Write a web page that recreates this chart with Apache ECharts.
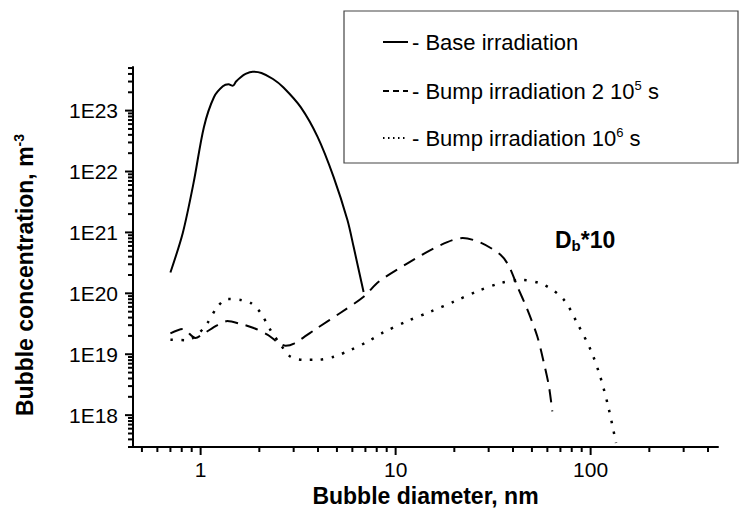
<!DOCTYPE html>
<html>
<head>
<meta charset="utf-8">
<script src="https://cdn.jsdelivr.net/npm/echarts@6/dist/echarts.min.js"></script>
<style>
  html, body { margin: 0; padding: 0; background: #fff; }
  #chart { width: 741px; height: 524px; }
</style>
</head>
<body>
<div id="chart"></div>
<script>
// Bubble size distributions (diameter in nm, concentration in m^-3)
const baseD = [0.70, 0.81, 0.92, 1.04, 1.17, 1.30, 1.39, 1.46, 1.52, 1.60, 1.70, 1.85, 2.05, 2.35, 2.66, 3.26, 3.98, 4.81, 5.66, 6.09, 6.85];
const baseC = [2.2e20, 9.8e20, 6.5e21, 5.4e22, 1.66e23, 2.5e23, 2.7e23, 2.55e23, 3.0e23, 3.5e23, 4.0e23, 4.35e23, 4.15e23, 3.3e23, 2.4e23, 1.14e23, 3.7e22, 8.1e21, 1.6e21, 5.8e20, 1.05e20];

const bump2e5D = [0.70, 0.81, 0.94, 1.04, 1.22, 1.37, 1.60, 1.87, 2.20, 2.47, 2.73, 3.01, 3.97, 5.22, 6.88, 8.21, 11.5, 17.0, 22.1, 27.3, 34.5, 38.1, 42.1, 47.4, 53.3, 57.6, 61.1, 63.6];
const bump2e5C = [2.2e19, 2.6e19, 1.85e19, 2.2e19, 3.0e19, 3.5e19, 3.15e19, 2.7e19, 2.1e19, 1.6e19, 1.38e19, 1.5e19, 2.7e19, 4.8e19, 8.9e19, 1.56e20, 3.1e20, 6.2e20, 8.1e20, 6.8e20, 4.3e20, 2.8e20, 1.3e20, 5.4e19, 1.95e19, 7.2e18, 3.0e18, 1.15e18];

const bump1e6D = [0.70, 0.855, 0.962, 1.08, 1.22, 1.37, 1.60, 1.80, 2.03, 2.28, 2.57, 2.89, 3.39, 3.97, 4.83, 5.88, 7.16, 8.7, 11.5, 15.1, 19.9, 26.2, 34.5, 43.7, 57.6, 73.0, 85.5, 100, 112, 123, 135];
const bump1e6C = [1.73e19, 1.7e19, 2.1e19, 3.2e19, 6.0e19, 8.1e19, 7.8e19, 7.0e19, 4.8e19, 2.5e19, 1.44e19, 9.1e18, 8.1e18, 8.1e18, 9.1e18, 1.18e19, 1.6e19, 2.3e19, 3.5e19, 5.0e19, 7.3e19, 1.08e20, 1.47e20, 1.66e20, 1.38e20, 7.8e19, 3.2e19, 1.18e19, 4.3e18, 1.4e18, 3.5e17];

// Axis ranges and tick values
const X_MIN = 0.45, X_MAX = 450;
const Y_MIN = 3e17, Y_MAX = 5.2e23;
const xMajorTicks = [1, 10, 100];
const xMinorTicks = [0.5, 0.6, 0.7, 0.8, 0.9, 2, 3, 4, 5, 6, 7, 8, 9, 20, 30, 40, 50, 60, 70, 80, 90, 200, 300, 400];
const yMajorTicks = [1e18, 1e19, 1e20, 1e21, 1e22, 1e23];
const yMinorTicks = [
  3e17, 4e17, 5e17, 6e17, 7e17, 8e17, 9e17,
  2e18, 3e18, 4e18, 5e18, 6e18, 7e18, 8e18, 9e18,
  2e19, 3e19, 4e19, 5e19, 6e19, 7e19, 8e19, 9e19,
  2e20, 3e20, 4e20, 5e20, 6e20, 7e20, 8e20, 9e20,
  2e21, 3e21, 4e21, 5e21, 6e21, 7e21, 8e21, 9e21,
  2e22, 3e22, 4e22, 5e22, 6e22, 7e22, 8e22, 9e22,
  2e23, 3e23, 4e23, 5e23
];

const FONT = 'Liberation Sans, Arial, sans-serif';

const zip = (xs, ys) => xs.map((x, i) => [x, ys[i]]);
const isDecade = v => {
  const e = Math.log10(v);
  return Math.abs(e - Math.round(e)) < 1e-6;
};

// Tick marks: [x, y, isMajor] placed on the axis lines via the grid scales
const xTickData = xMajorTicks.map(v => [v, Y_MIN, 1]).concat(xMinorTicks.map(v => [v, Y_MIN, 0]));
const yTickData = yMajorTicks.map(v => [X_MIN, v, 1]).concat(yMinorTicks.map(v => [X_MIN, v, 0]));

function tickRenderer(horizontal) {
  return function (params, api) {
    const p = api.coord([api.value(0), api.value(1)]);
    const len = api.value(2) ? 8 : 5;
    const shape = horizontal
      ? { x1: p[0], y1: p[1], x2: p[0], y2: p[1] + len }
      : { x1: p[0], y1: p[1], x2: p[0] - len, y2: p[1] };
    return { type: 'line', shape: shape, style: { stroke: '#000', lineWidth: 2 } };
  };
}

const chart = echarts.init(document.getElementById('chart'), null, { renderer: 'svg' });

const legendRich = {
  n: { fontFamily: FONT, fontSize: 22, fill: '#000', lineHeight: 24 },
  s: { fontFamily: FONT, fontSize: 13, fill: '#000', verticalAlign: 'top', lineHeight: 12 }
};

chart.setOption({
  animation: false,
  backgroundColor: '#fff',
  grid: { left: 133, right: 23, top: 67, bottom: 77, containLabel: false },
  xAxis: {
    type: 'log', min: X_MIN, max: X_MAX, logBase: 10,
    axisLine: { show: true, lineStyle: { color: '#000', width: 2 } },
    axisTick: { show: false },
    splitLine: { show: false },
    minorTick: { show: false },
    axisLabel: {
      margin: 12, color: '#000', fontFamily: FONT, fontSize: 21,
      showMinLabel: false, showMaxLabel: false,
      formatter: v => (isDecade(v) ? String(Math.round(v)) : '')
    },
    name: 'Bubble diameter, nm',
    nameLocation: 'middle', nameGap: 36,
    nameTextStyle: { color: '#000', fontFamily: FONT, fontSize: 23, fontWeight: 'bold' }
  },
  yAxis: {
    type: 'log', min: Y_MIN, max: Y_MAX, logBase: 10,
    axisLine: { show: true, lineStyle: { color: '#000', width: 2 } },
    axisTick: { show: false },
    splitLine: { show: false },
    minorTick: { show: false },
    axisLabel: {
      margin: 15, color: '#000', fontFamily: FONT, fontSize: 21,
      showMinLabel: false, showMaxLabel: false,
      formatter: v => (isDecade(v) ? '1E' + Math.round(Math.log10(v)) : '')
    },
    name: '{a|Bubble concentration, m}{b|-3}',
    nameLocation: 'middle', nameGap: 95, nameRotate: 90,
    nameTextStyle: {
      color: '#000', padding: [0, 36, 0, 0],
      rich: {
        a: { fontFamily: FONT, fontSize: 23, fontWeight: 'bold', color: '#000', lineHeight: 26 },
        b: { fontFamily: FONT, fontSize: 14, fontWeight: 'bold', color: '#000', verticalAlign: 'top', lineHeight: 14 }
      }
    }
  },
  graphic: [
    { type: 'rect', z: 100, shape: { x: 344, y: 11, width: 394, height: 152 },
      style: { fill: '#fff', stroke: '#444', lineWidth: 1.2 } },
    { type: 'line', z: 101, shape: { x1: 383, y1: 42, x2: 408, y2: 42 },
      style: { stroke: '#000', lineWidth: 2 } },
    { type: 'text', z: 101, x: 412, y: 42,
      style: { text: '{n|- Base irradiation}', verticalAlign: 'middle', rich: legendRich } },
    { type: 'line', z: 101, shape: { x1: 383, y1: 91, x2: 408, y2: 91 },
      style: { stroke: '#000', lineWidth: 2, lineDash: [6, 4] } },
    { type: 'text', z: 101, x: 412, y: 91,
      style: { text: '{n|- Bump irradiation 2 10}{s|5}{n| s}', verticalAlign: 'middle', rich: legendRich } },
    { type: 'line', z: 101, shape: { x1: 383, y1: 138, x2: 408, y2: 138 },
      style: { stroke: '#000', lineWidth: 2, lineDash: [1.5, 3.5] } },
    { type: 'text', z: 101, x: 412, y: 138,
      style: { text: '{n|- Bump irradiation 10}{s|6}{n| s}', verticalAlign: 'middle', rich: legendRich } },
    { type: 'text', z: 101, x: 555, y: 240,
      style: {
        text: '{m|D}{u|b}{m|*10}', verticalAlign: 'middle',
        rich: {
          m: { fontFamily: FONT, fontSize: 23, fontWeight: 'bold', fill: '#000', lineHeight: 26 },
          u: { fontFamily: FONT, fontSize: 15, fontWeight: 'bold', fill: '#000', verticalAlign: 'bottom', lineHeight: 14 }
        }
      } }
  ],
  series: [
    {
      name: 'Base irradiation', type: 'line', data: zip(baseD, baseC),
      showSymbol: false, smooth: 0.3,
      lineStyle: { color: '#000', width: 2, type: 'solid' }
    },
    {
      name: 'Bump irradiation 2 10^5 s', type: 'line', data: zip(bump2e5D, bump2e5C),
      showSymbol: false, smooth: 0.3,
      lineStyle: { color: '#000', width: 2, type: [13, 8] }
    },
    {
      name: 'Bump irradiation 10^6 s', type: 'line', data: zip(bump1e6D, bump1e6C),
      showSymbol: false, smooth: 0.3,
      lineStyle: { color: '#000', width: 2.5, type: [2.5, 8.5] }
    },
    {
      name: 'x ticks', type: 'custom', data: xTickData, z: 5,
      encode: { x: 0, y: 1 }, renderItem: tickRenderer(true), silent: true
    },
    {
      name: 'y ticks', type: 'custom', data: yTickData, z: 5,
      encode: { x: 0, y: 1 }, renderItem: tickRenderer(false), silent: true
    }
  ]
});
</script>
</body>
</html>
